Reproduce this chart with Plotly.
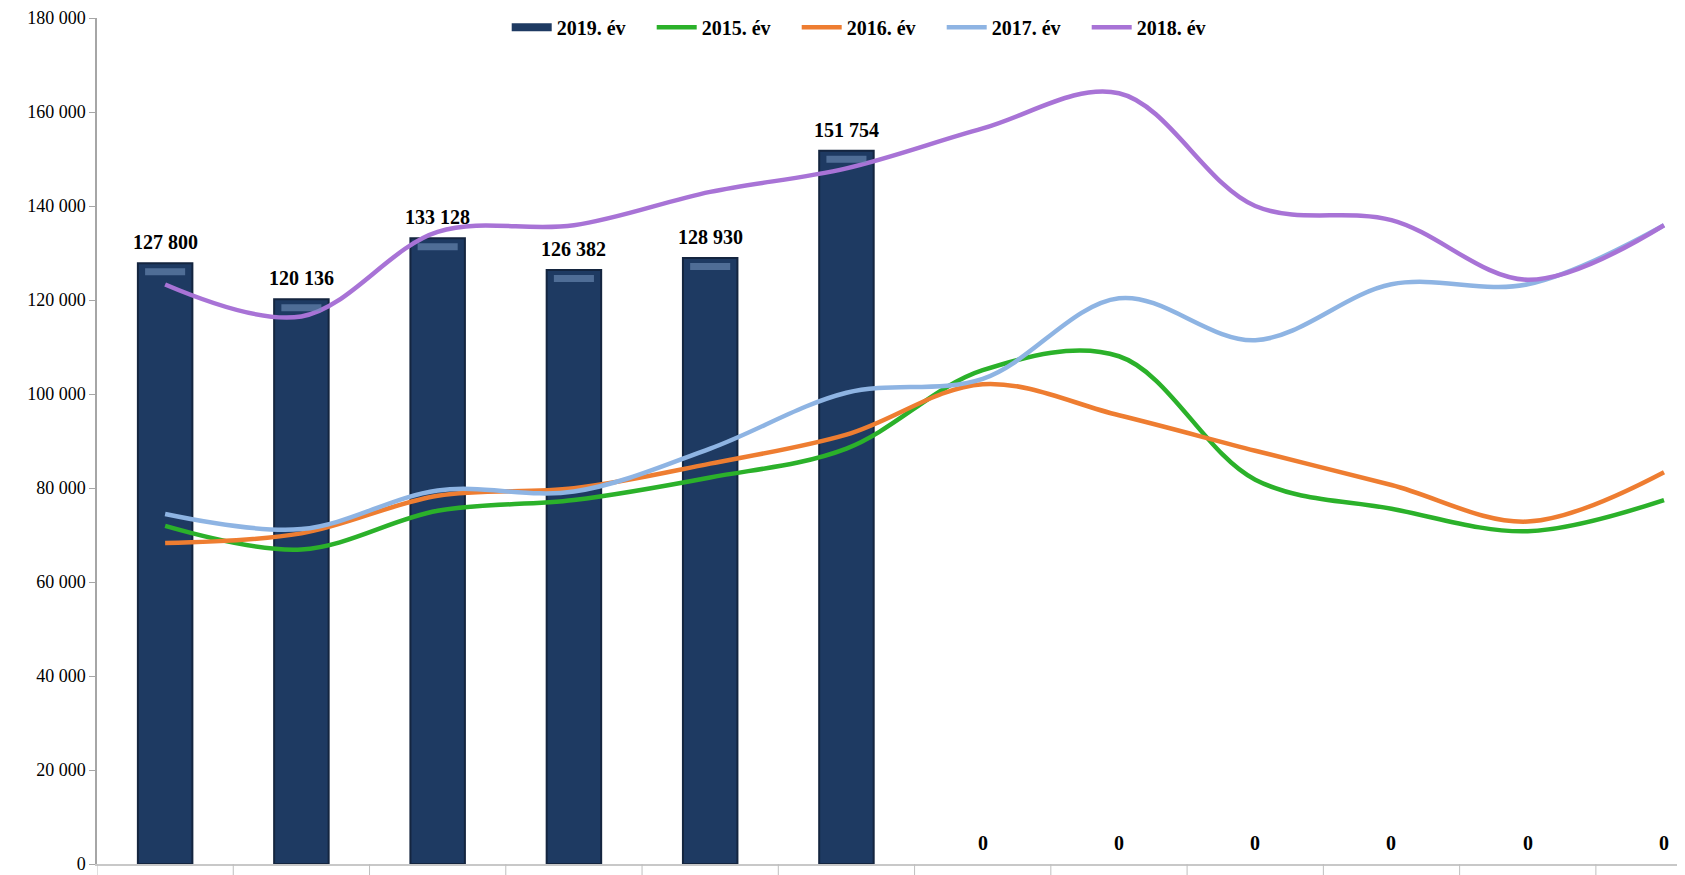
import plotly.graph_objects as go

months = ["I", "II", "III", "IV", "V", "VI", "VII", "VIII", "IX", "X", "XI", "XII"]
y2019 = [127800, 120136, 133128, 126382, 128930, 151754, 0, 0, 0, 0, 0, 0]
y2015 = [71950, 66930, 75150, 77430, 82230, 88390, 105060, 108030, 81770, 75600, 70800, 77430]
y2016 = [68290, 70350, 78340, 79940, 85190, 91360, 102100, 95470, 87930, 80630, 72860, 83370]
y2017 = [74460, 71260, 79480, 79250, 88390, 100270, 103240, 120370, 111460, 123340, 123340, 135900]
y2018 = [123300, 116500, 134500, 135900, 143000, 148000, 156500, 164000, 140000, 137000, 124300, 135900]
yticks = [0, 20000, 40000, 60000, 80000, 100000, 120000, 140000, 160000, 180000]

FONT = "Liberation Serif"
NAVY = "#1E3A62"

fig = go.Figure()
fig.add_trace(go.Bar(
    x=months, y=y2019, name="2019. év", width=0.4, showlegend=False,
    marker=dict(color=NAVY, line=dict(color="#14253F",
                                      width=[2 if v > 0 else 0 for v in y2019])),
))
# legend swatch for the bar series (drawn as a wide navy bar like the original)
fig.add_trace(go.Scatter(
    x=[None], y=[None], name="2019. év", mode="lines",
    line=dict(color=NAVY, width=8),
))
series = [
    ("2015. év", y2015, "#2BB12A"),
    ("2016. év", y2016, "#EE7D31"),
    ("2017. év", y2017, "#8EB4E3"),
    ("2018. év", y2018, "#A873D6"),
]
for name, vals, col in series:
    fig.add_trace(go.Scatter(
        x=months, y=vals, name=name, mode="lines",
        line=dict(color=col, width=4.5, shape="spline", smoothing=1.0),
    ))

annotations = []
for m, v in zip(months, y2019):
    annotations.append(dict(
        x=m, y=v, xref="x", yref="y", text="<b>" + f"{v:,}".replace(",", " ") + "</b>",
        showarrow=False, yshift=21, font=dict(family=FONT, size=20, color="black"),
    ))

shapes = []
# glossy highlight near the top of each bar
for i, v in enumerate(y2019):
    if v > 0:
        shapes.append(dict(
            type="rect", xref="x", yref="y", x0=i - 0.147, x1=i + 0.147,
            y0=v - 2550, y1=v - 1060, fillcolor="#6F90B9", opacity=0.6,
            line=dict(width=0), layer="above",
        ))
# category dividers below the axis
for i in range(len(months) + 1):
    shapes.append(dict(
        type="line", xref="x", yref="paper", x0=i - 0.5, x1=i - 0.5, y0=0, y1=-0.02,
        line=dict(color="#BFBFBF", width=1),
    ))

fig.update_layout(
    width=1677, height=867,
    margin=dict(l=89, r=0, t=10, b=11, autoexpand=False),
    paper_bgcolor="white", plot_bgcolor="white",
    separators=", ",
    font=dict(family=FONT, size=18, color="black"),
    showlegend=True,
    legend=dict(
        orientation="h", x=0.258, xanchor="left", y=0.989, yanchor="middle",
        font=dict(family=FONT, size=20, color="black", weight="bold"),
        entrywidth=90, entrywidthmode="pixels", itemwidth=40,
        bgcolor="rgba(0,0,0,0)", traceorder="normal",
    ),
    annotations=annotations,
    shapes=shapes,
)
fig.update_xaxes(
    type="category", range=[-0.5, 11.154], showline=True, linecolor="#C8C8C8", linewidth=1.5,
    ticks="", showgrid=False, automargin=False,
    tickfont=dict(family=FONT, size=20, color="black"),
)
fig.update_yaxes(
    range=[0, 180000], tickvals=yticks, tickformat=",d", showgrid=False, zeroline=False,
    showline=True, linecolor="#A6A6A6", linewidth=1.5, ticks="outside", ticklen=6,
    tickcolor="#A6A6A6", automargin=False,
    tickfont=dict(family=FONT, size=18, color="black"),
)

fig.write_html("out.html")
